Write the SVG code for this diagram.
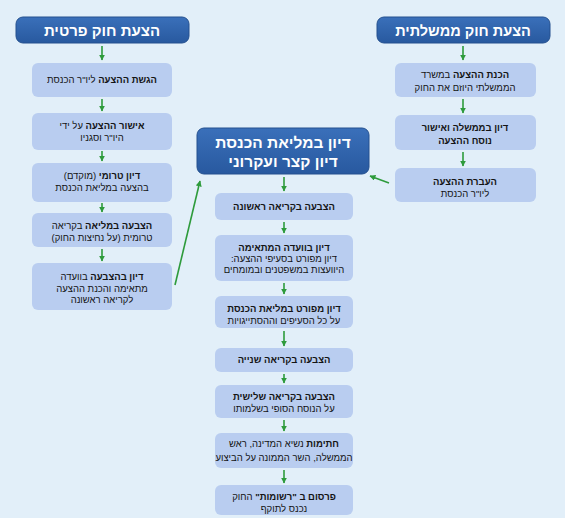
<svg xmlns="http://www.w3.org/2000/svg" width="572" height="528" viewBox="0 0 572 528">
<defs>
<linearGradient id="hdr" x1="0" y1="0" x2="0" y2="1">
<stop offset="0" stop-color="#3a70ba"/>
<stop offset="1" stop-color="#28599f"/>
</linearGradient>
<marker id="ah" viewBox="0 0 10 10" refX="9" refY="5" markerWidth="6" markerHeight="6" orient="auto" markerUnits="userSpaceOnUse">
<path d="M0,0 L10,5 L0,10 z" fill="#2e9b3c"/>
</marker>
</defs>
<style>
.hdr{fill:url(#hdr);stroke:#24508f;stroke-width:1}
.box{fill:#b9cdf0}
.ht{font-family:"Liberation Sans","DejaVu Sans",sans-serif;font-weight:bold;fill:#ffffff;text-anchor:middle}
.bt{font-family:"Liberation Sans","DejaVu Sans",sans-serif;font-size:9.5px;fill:#141414;text-anchor:middle}
.b{font-weight:bold}
.con line{stroke:#2e9b3c;stroke-width:1.6;marker-end:url(#ah)}
</style>
<rect x="0" y="0" width="565" height="518" fill="#e2eff9"/>

<g id="hdr-private">
<rect class="hdr" x="16" y="17" width="173" height="26" rx="7"/>
<text class="ht" x="102" y="36" font-size="15" direction="rtl">הצעת חוק פרטית</text>
</g>
<g id="hdr-gov">
<rect class="hdr" x="377" y="17" width="173" height="26" rx="7"/>
<text class="ht" x="463" y="36" font-size="14.5" direction="rtl">הצעת חוק ממשלתית</text>
</g>
<g id="hdr-plenum">
<rect class="hdr" x="197" y="128" width="172" height="46" rx="7"/>
<text class="ht" x="283" y="148" font-size="15.5" direction="rtl">דיון במליאת הכנסת</text>
<text class="ht" x="283" y="167" font-size="15.5" direction="rtl">דיון קצר ועקרוני</text>
</g>

<g id="p1">
<rect class="box" x="32" y="63" width="140" height="34" rx="6"/>
<text class="bt" x="102" y="83" direction="rtl"><tspan class="b">הגשת ההצעה</tspan> ליו"ר הכנסת</text>
</g>
<g id="p2">
<rect class="box" x="32" y="113" width="140" height="37" rx="6"/>
<text class="bt" x="102" y="129" direction="rtl"><tspan class="b">אישור ההצעה</tspan> על ידי</text>
<text class="bt" x="102" y="141" direction="rtl">היו"ר וסגניו</text>
</g>
<g id="p3">
<rect class="box" x="32" y="163" width="140" height="39" rx="6"/>
<text class="bt" x="102" y="179" direction="rtl"><tspan class="b">דיון טרומי</tspan> (מוקדם)</text>
<text class="bt" x="102" y="191" direction="rtl">בהצעה במליאת הכנסת</text>
</g>
<g id="p4">
<rect class="box" x="32" y="213" width="140" height="34" rx="6"/>
<text class="bt" x="102" y="229" direction="rtl"><tspan class="b">הצבעה במליאה</tspan> בקריאה</text>
<text class="bt" x="102" y="241" direction="rtl">טרומית (על נחיצות החוק)</text>
</g>
<g id="p5">
<rect class="box" x="32" y="263" width="140" height="47" rx="6"/>
<text class="bt" x="102" y="280" direction="rtl"><tspan class="b">דיון בהצבעה</tspan> בוועדה</text>
<text class="bt" x="102" y="292" direction="rtl">מתאימה והכנת ההצעה</text>
<text class="bt" x="102" y="303" direction="rtl">לקריאה ראשונה</text>
</g>

<g id="g1">
<rect class="box" x="395" y="63" width="141" height="34" rx="6"/>
<text class="bt" x="465" y="78" direction="rtl"><tspan class="b">הכנת ההצעה</tspan> במשרד</text>
<text class="bt" x="465" y="91" direction="rtl">הממשלתי היוזם את החוק</text>
</g>
<g id="g2">
<rect class="box" x="395" y="115" width="141" height="35" rx="6"/>
<text class="bt b" x="465" y="131" direction="rtl">דיון בממשלה ואישור</text>
<text class="bt b" x="465" y="144" direction="rtl">נוסח ההצעה</text>
</g>
<g id="g3">
<rect class="box" x="395" y="168" width="141" height="34" rx="6"/>
<text class="bt b" x="465" y="185" direction="rtl">העברת ההצעה</text>
<text class="bt" x="465" y="197" direction="rtl">ליו"ר הכנסת</text>
</g>

<g id="c1">
<rect class="box" x="215" y="193" width="138" height="27" rx="6"/>
<text class="bt b" x="284" y="210" direction="rtl">הצבעה בקריאה ראשונה</text>
</g>
<g id="c2">
<rect class="box" x="215" y="235" width="138" height="46" rx="6"/>
<text class="bt b" x="284" y="251" direction="rtl">דיון בוועדה המתאימה</text>
<text class="bt" x="284" y="262" direction="rtl">דיון מפורט בסעיפי ההצעה:</text>
<text class="bt" x="284" y="273" direction="rtl">היוועצות במשפטנים ובמומחים</text>
</g>
<g id="c3">
<rect class="box" x="215" y="296" width="138" height="32" rx="6"/>
<text class="bt b" x="284" y="312" direction="rtl">דיון מפורט במליאת הכנסת</text>
<text class="bt" x="284" y="324" direction="rtl">על כל הסעיפים וההסתייגויות</text>
</g>
<g id="c4">
<rect class="box" x="215" y="348" width="138" height="24" rx="6"/>
<text class="bt b" x="284" y="363" direction="rtl">הצבעה בקריאה שנייה</text>
</g>
<g id="c5">
<rect class="box" x="215" y="385" width="138" height="33" rx="6"/>
<text class="bt b" x="284" y="400" direction="rtl">הצבעה בקריאה שלישית</text>
<text class="bt" x="284" y="412" direction="rtl">על הנוסח הסופי בשלמותו</text>
</g>
<g id="c6">
<rect class="box" x="215" y="433" width="138" height="35" rx="6"/>
<text class="bt" x="284" y="447" direction="rtl"><tspan class="b">חתימות</tspan> נשיא המדינה, ראש</text>
<text class="bt" x="284" y="461" direction="rtl" font-size="9">הממשלה, השר הממונה על הביצוע</text>
</g>
<g id="c7">
<rect class="box" x="215" y="485" width="138" height="30" rx="6"/>
<text class="bt" x="284" y="500" direction="rtl"><tspan class="b">פרסום ב "רשומות"</tspan> החוק</text>
<text class="bt" x="284" y="512" direction="rtl">נכנס לתוקף</text>
</g>

<g id="connectors" class="con">
<line x1="102" y1="46" x2="102" y2="60"/>
<line x1="102" y1="99" x2="102" y2="111"/>
<line x1="102" y1="151" x2="102" y2="161"/>
<line x1="102" y1="203" x2="102" y2="212"/>
<line x1="102" y1="249" x2="102" y2="261"/>
<line x1="463" y1="46" x2="463" y2="60"/>
<line x1="463" y1="99" x2="463" y2="113"/>
<line x1="463" y1="152" x2="463" y2="166"/>
<line x1="389" y1="183" x2="370" y2="176"/>
<line x1="175" y1="285" x2="200" y2="181"/>
<line x1="284" y1="177" x2="284" y2="191"/>
<line x1="284" y1="222" x2="284" y2="233"/>
<line x1="284" y1="283" x2="284" y2="294"/>
<line x1="284" y1="331" x2="284" y2="346"/>
<line x1="284" y1="374" x2="284" y2="383"/>
<line x1="284" y1="420" x2="284" y2="431"/>
<line x1="284" y1="470" x2="284" y2="483"/>
</g>
</svg>
